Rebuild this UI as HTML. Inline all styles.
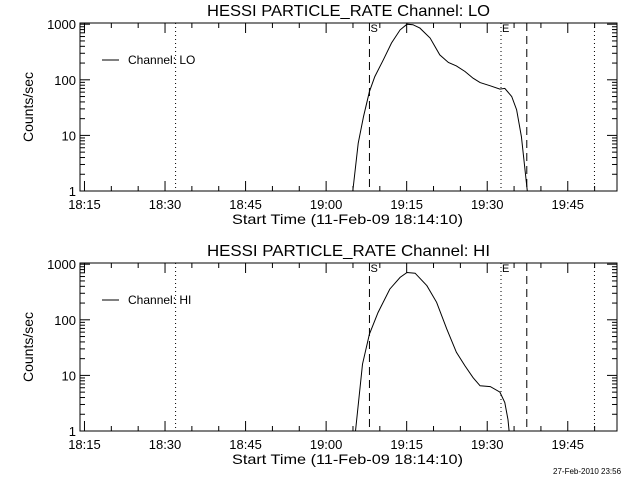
<!DOCTYPE html>
<html><head><meta charset="utf-8"><style>
html,body{margin:0;padding:0;background:#fff;}
svg{display:block;font-family:"Liberation Sans",sans-serif;}
</style></head><body>
<svg id="chart" width="640" height="480" viewBox="0 0 640 480">
<text x="553" y="474" font-size="8">27-Feb-2010 23:56</text>
</svg>
<script>
// minutes after 18:14:10
const loTimes = [50.8,51.8,52.8,53.9,54.9,56.5,58.0,59.6,60.9,62.0,63.3,65.2,67.0,68.6,70.1,71.7,73.2,74.5,76.4,78.2,79.1,80.4,81.3,82.2,83.3];
const loValues = [1,7.2,21.8,61,114,230,460,790,1000,980,850,565,280,205,178,141,107,89,78,68,70,50,29,9.5,1];
const hiTimes = [51.3,52.6,53.9,55.5,57.7,59.6,60.9,62.4,64.6,66.4,68.3,70.1,71.7,73.2,74.5,76.4,78.2,79.1,79.7,79.9];
const hiValues = [1,15.9,55,135,357,580,710,690,410,206,68,26,14.8,9.1,6.5,6.3,5.0,3.25,1.6,1];
const xTickLabels = ["18:15","18:30","18:45","19:00","19:15","19:30","19:45"];
const xTickMinutes = [0.833,15.833,30.833,45.833,60.833,75.833,90.833];
const yTickLabels = ["1","10","100","1000"];
const yTickValues = [1,10,100,1000];
const dottedMinutes = [17.8,78.4,95.8];
const dashedMinutes = [53.9,83.2];
const NS="http://www.w3.org/2000/svg";
const svg=document.getElementById('chart');
function mk(tag,attrs,parent){const e=document.createElementNS(NS,tag);for(const k in attrs)e.setAttribute(k,attrs[k]);(parent||svg).appendChild(e);return e;}
function panel(top,name,times,vals,pname){
  const L=80,R=617,T=top,B=top+168;
  const xs=m=>L+m*(R-L)/100;
  const dec=55.6;
  const ys=v=>B-Math.log10(v)*dec;
  const g=mk('g',{});
  
  
  const t=mk('text',{x:207,y:T-7,'font-size':16,textLength:283,lengthAdjust:'spacingAndGlyphs'},g);
  t.textContent='HESSI PARTICLE_RATE Channel: '+name;
  
  
  const box=mk('rect',{x:L,y:T,width:R-L,height:B-T,fill:'none',stroke:'#000','stroke-width':1},g);
  
  
  for(let m=0.833;m<100;m+=5){
    const x=xs(m); const maj=Math.abs(((m-0.833)/15)-Math.round((m-0.833)/15))<0.01; const len=maj?10:5;
    mk('line',{x1:x,y1:B,x2:x,y2:B-len,stroke:'#000'},g);
    mk('line',{x1:x,y1:T,x2:x,y2:T+len,stroke:'#000'},g);
  }
  xTickLabels.forEach((lab,i)=>{
    const tx=mk('text',{x:xs(xTickMinutes[i]),y:B+18,'font-size':13,'text-anchor':'middle'},g);
    tx.textContent=lab;
    
    
  });
  const xl=mk('text',{x:232,y:B+33,'font-size':14,textLength:231,lengthAdjust:'spacingAndGlyphs'},g);
  xl.textContent='Start Time (11-Feb-09 18:14:10)';
  
  
  for(let d=1;d<=1000;d*=10){for(let k=1;k<10;k++){const v=d*k;if(v>1090)break;const y=ys(v);const len=k==1?10:5;
    mk('line',{x1:L,y1:y,x2:L+len,y2:y,stroke:'#000'},g);mk('line',{x1:R,y1:y,x2:R-len,y2:y,stroke:'#000'},g);}}
  yTickLabels.forEach((lab,i)=>{
    const ty=mk('text',{x:L-4,y:ys(yTickValues[i])+5,'font-size':13,'text-anchor':'end'},g);
    ty.textContent=lab;
    
    
  });
  const yl=mk('text',{x:0,y:0,'font-size':14,'text-anchor':'middle',transform:`translate(33,${(T+B)/2}) rotate(-90)`},g);
  yl.textContent='Counts/sec';
  
  
  dottedMinutes.forEach(m=>{const l=mk('line',{x1:xs(m),y1:T,x2:xs(m),y2:B,stroke:'#000','stroke-dasharray':'1,3'},g);
    });
  dashedMinutes.forEach(m=>{const l=mk('line',{x1:xs(m),y1:T,x2:xs(m),y2:B,stroke:'#000','stroke-dasharray':'8,5'},g);
    });
  const s=mk('text',{x:xs(dashedMinutes[0])+1,y:T+9,'font-size':11},g);s.textContent='S';
  
  const e=mk('text',{x:xs(dottedMinutes[1])+1,y:T+9,'font-size':11},g);e.textContent='E';
  
  const pts=times.map((m,i)=>xs(m).toFixed(1)+','+ys(vals[i]).toFixed(1)).join(' ');
  const pl=mk('polyline',{points:pts,fill:'none',stroke:'#000','stroke-width':1},g);
  
  
  const ll=mk('line',{x1:102,y1:T+37,x2:119,y2:T+37,stroke:'#000'},g);
  
  const lt=mk('text',{x:128,y:T+41,'font-size':12},g);lt.textContent='Channel: '+name;
  
}
panel(23,'LO',loTimes,loValues,'lo');
panel(263,'HI',hiTimes,hiValues,'hi');
</script>
</body></html>
